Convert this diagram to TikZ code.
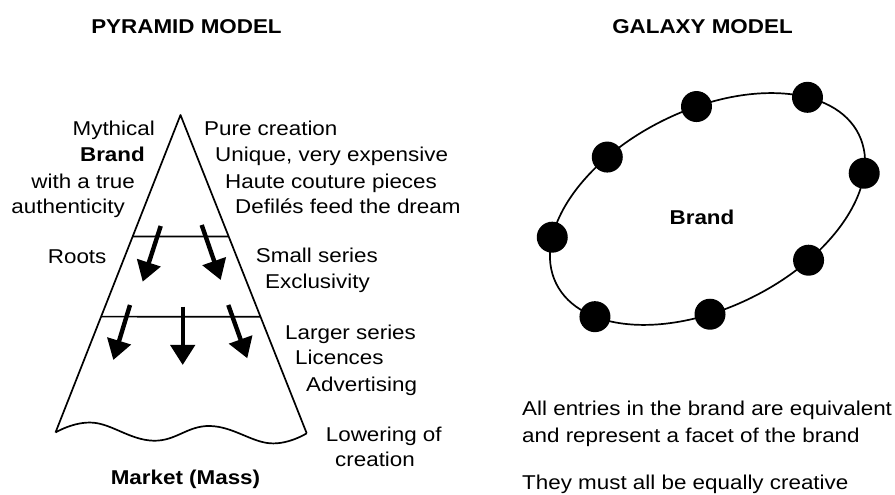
\documentclass[tikz,border=0pt]{standalone}
\usepackage{fontspec}
\setmainfont{Liberation Sans}[FakeStretch=1.12]
\usetikzlibrary{arrows.meta,calc}
\begin{document}
\begin{tikzpicture}[x=1pt,y=1pt,
  lbl/.style={inner sep=0pt,font=\fontsize{20}{24}\selectfont},
  blbl/.style={inner sep=0pt,font=\fontsize{20}{24}\selectfont\bfseries},
  flow/.style={line width=4.4pt,-{Triangle[width=24pt,length=20pt]}},
  dot/.style={circle,fill=black,inner sep=0pt,minimum size=31pt},
  edge/.style={line width=1.7pt,line join=round}]
\useasboundingbox (0,0) rectangle (895,495);
% titles
\node[blbl,anchor=base] (tp) at (186.5,461) {PYRAMID MODEL};
\node[blbl,anchor=base] (tg) at (702.5,461) {GALAXY MODEL};
% pyramid
\coordinate (apex) at (180.5,380);
\coordinate (bl) at (55.5,62.5);
\coordinate (br) at (306.7,61.7);
\draw[edge] (br) -- (apex) -- (bl)
  plot[smooth,tension=0.7] coordinates {(55.5,62.5) (93.3,72.3) (153.3,54.3) (210,69) (270,51.7) (306.7,61.7)};
\coordinate (l1a) at ($(apex)!0.383!(bl)$);
\coordinate (l1b) at ($(apex)!0.382!(br)$);
\coordinate (l2a) at ($(apex)!0.635!(bl)$);
\coordinate (l2b) at ($(apex)!0.634!(br)$);
\draw[edge] (l1a) -- (l1b);
\draw[edge] (l2a) -- (l2b);
% arrows
\coordinate (a1s) at (160.7,269);   \coordinate (a1e) at (142.7,213.3);
\coordinate (a2s) at (201.7,270);   \coordinate (a2e) at (220.7,215);
\coordinate (a3s) at (130,190);     \coordinate (a3e) at (113.3,135);
\coordinate (a4s) at (182.7,188.3); \coordinate (a4e) at (182.7,130);
\coordinate (a5s) at (228.3,190);   \coordinate (a5e) at (247.3,136.7);
\foreach \k in {1,...,5} \draw[flow] (a\k s) -- (a\k e);
% left labels
\node[lbl,anchor=mid east] (myth) at (155,362) {Mythical};
\node[blbl,anchor=mid east] (brl) at (145,336) {Brand};
\node[lbl,anchor=mid east] (wat) at (135,309.5) {with a true};
\node[lbl,anchor=mid east] (auth) at (125,284.5) {authenticity};
\node[lbl,anchor=mid west] (roots) at (47.7,234) {Roots};
% right labels
\node[lbl,anchor=mid west] (pc) at (204,362) {Pure creation};
\node[lbl,anchor=mid west] (uve) at (215,336) {Unique, very expensive};
\node[lbl,anchor=mid west] (hcp) at (225,309.5) {Haute couture pieces};
\node[lbl,anchor=mid west] (dfd) at (235,284.5) {Defilés feed the dream};
\node[lbl,anchor=mid west] (ss) at (255.7,235.5) {Small series};
\node[lbl,anchor=mid west] (ex) at (265,209.5) {Exclusivity};
\node[lbl,anchor=mid west] (ls) at (285,158) {Larger series};
\node[lbl,anchor=mid west] (lic) at (295,133) {Licences};
\node[lbl,anchor=mid west] (adv) at (306,106) {Advertising};
\node[lbl,anchor=mid west] (low) at (325.7,56) {Lowering of};
\node[lbl,anchor=mid west] (cre) at (335,31) {creation};
\node[blbl,anchor=mid] (mkt) at (185.5,13) {Market (Mass)};
% galaxy
\begin{scope}[shift={(707.5,286)},rotate=26.2]
  \draw[edge] (0,0) ellipse [x radius=168.7pt, y radius=99pt];
  \foreach \t [count=\i] in {-22,34.5,77.9,113.4,154.1,208.3,254.8,293.8}
    \node[dot] (d\i) at (\t:168.7pt and 99pt) {};
\end{scope}
\node[blbl,anchor=mid] (gbrand) at (702,273) {Brand};
\node[lbl,anchor=mid west] (g1) at (522,82) {All entries in the brand are equivalent};
\node[lbl,anchor=mid west] (g2) at (522,55) {and represent a facet of the brand};
\node[lbl,anchor=mid west] (g3) at (522,8) {They must all be equally creative};
\end{tikzpicture}
\end{document}
